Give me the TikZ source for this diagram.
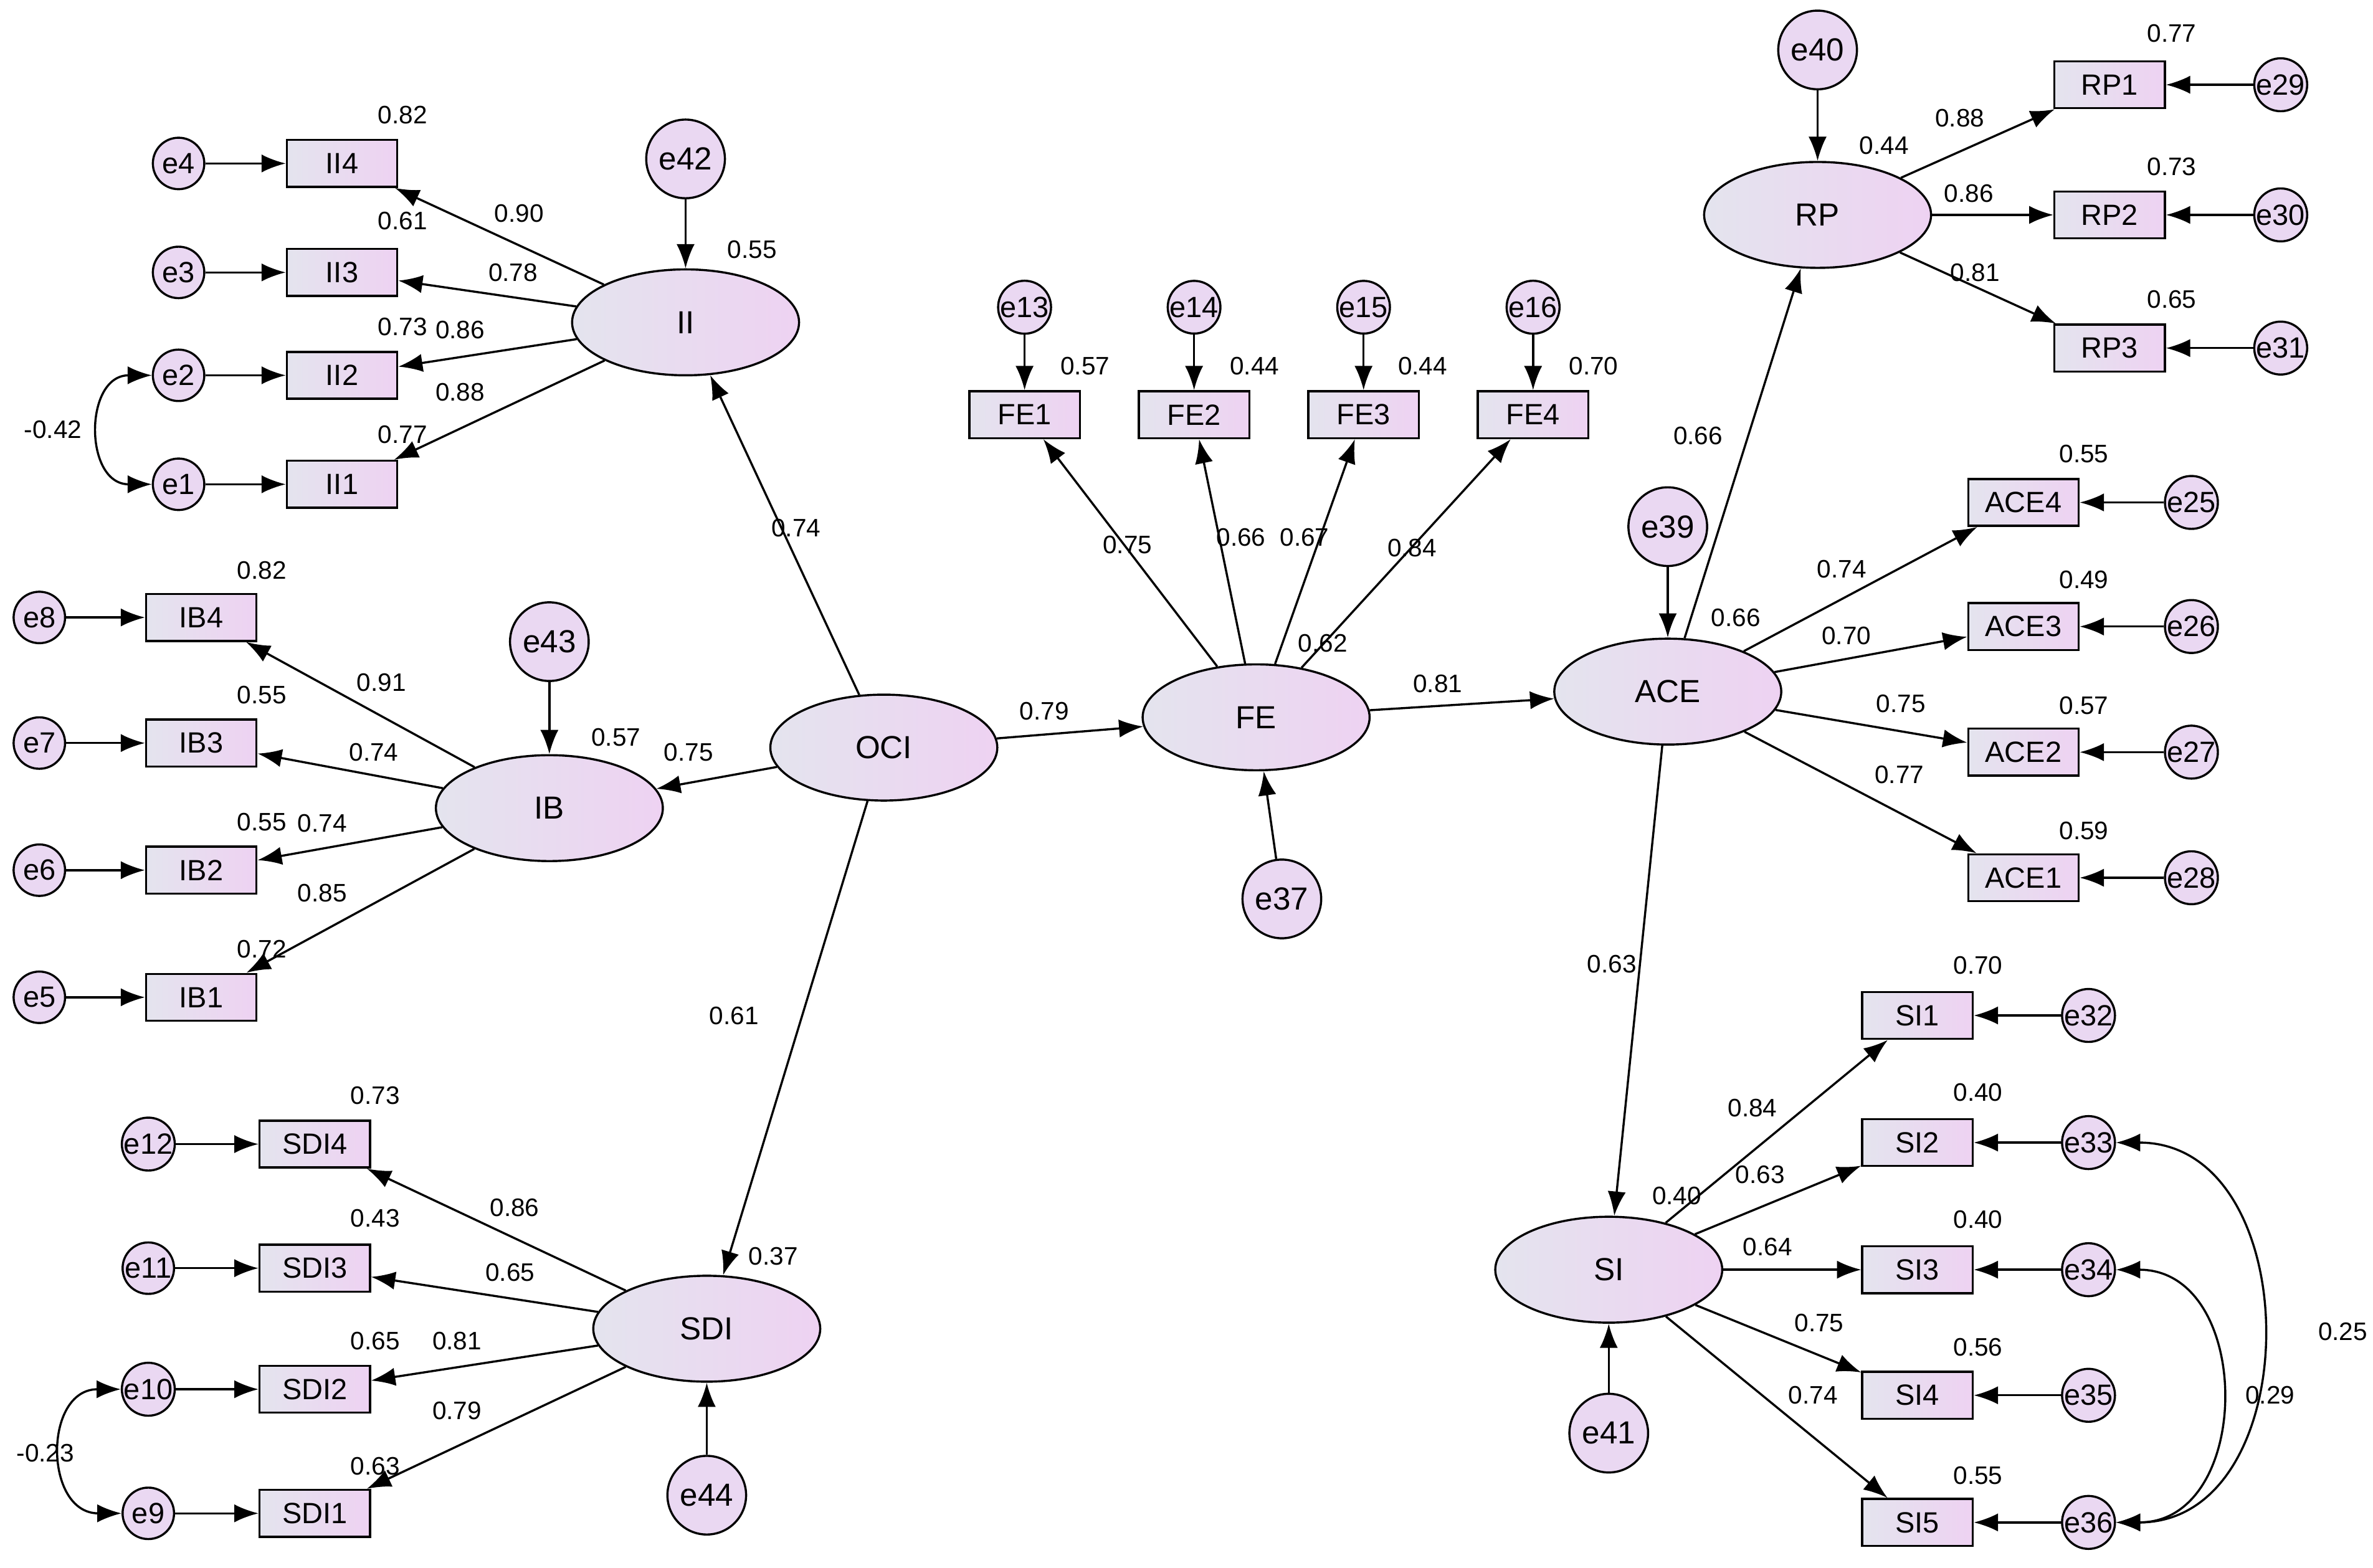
\documentclass[tikz,border=0pt]{standalone}
\usepackage{fontspec}
\setmainfont{Liberation Sans}
\usetikzlibrary{shapes.geometric,arrows.meta}
\definecolor{ga}{RGB}{228,228,238}
\definecolor{gb}{RGB}{238,210,242}
\definecolor{cf}{RGB}{234,216,242}
\begin{document}
\begin{tikzpicture}[x=0.02cm,y=-0.02cm,
 lat/.style={ellipse,draw,thick,left color=ga,right color=gb,minimum width=3cm,minimum height=1.4cm,font=\fontsize{12}{14}\selectfont},
 obs/.style={rectangle,draw,thick,left color=ga,right color=gb,minimum width=1.46cm,minimum height=0.62cm,inner sep=0pt,font=\fontsize{11}{13}\selectfont},
 err/.style={circle,draw,thick,fill=cf,minimum size=0.68cm,inner sep=0pt,font=\fontsize{11}{13}\selectfont},
 berr/.style={circle,draw,thick,fill=cf,minimum size=1.04cm,inner sep=0pt,font=\fontsize{12}{14}\selectfont},
 ar/.style={thick,-{Latex[length=0.32cm,width=0.24cm]}},
 cov/.style={thick,{Latex[length=0.32cm,width=0.24cm]}-{Latex[length=0.32cm,width=0.24cm]}},
 lb/.style={font=\fontsize{9.5}{11}\selectfont,inner sep=1pt}]
\useasboundingbox (0,0) rectangle (1568,1036);
% latent
\node[lat] (II) at (453,213) {II};
\node[lat] (IB) at (363,534) {IB};
\node[lat] (OCI) at (584,494) {OCI};
\node[lat] (FE) at (830,474) {FE};
\node[lat] (ACE) at (1102,457) {ACE};
\node[lat] (RP) at (1201,142) {RP};
\node[lat] (SI) at (1063,839) {SI};
\node[lat] (SDI) at (467,878) {SDI};
% big errors
\node[berr] (e42) at (453,105) {e42};
\node[berr] (e43) at (363,424) {e43};
\node[berr] (e37) at (847,594) {e37};
\node[berr] (e39) at (1102,348) {e39};
\node[berr] (e40) at (1201,33) {e40};
\node[berr] (e41) at (1063,947) {e41};
\node[berr] (e44) at (467,988) {e44};
\draw[ar] (e42)--(II); \draw[ar] (e43)--(IB); \draw[ar] (e37)--(FE);
\draw[ar] (e39)--(ACE); \draw[ar] (e40)--(RP); \draw[ar] (e41)--(SI); \draw[ar] (e44)--(SDI);
% structural
\draw[ar] (OCI)--(II); \draw[ar] (OCI)--(IB); \draw[ar] (OCI)--(SDI); \draw[ar] (OCI)--(FE);
\draw[ar] (FE)--(ACE); \draw[ar] (ACE)--(RP); \draw[ar] (ACE)--(SI);
% II
\foreach \n/\y/\e in {4/108/4,3/180/3,2/248/2,1/320/1}{
 \node[obs] (II\n) at (226,\y) {II\n};
 \node[err] (e\e) at (118,\y) {e\e};
 \draw[ar] (e\e)--(II\n); \draw[ar] (II)--(II\n);}
% IB
\foreach \n/\y/\e in {4/408/8,3/491/7,2/575/6,1/659/5}{
 \node[obs] (IB\n) at (133,\y) {IB\n};
 \node[err] (e\e) at (26,\y) {e\e};
 \draw[ar] (e\e)--(IB\n); \draw[ar] (IB)--(IB\n);}
% SDI
\foreach \n/\y/\e in {4/756/12,3/838/11,2/918/10,1/1000/9}{
 \node[obs] (SDI\n) at (208,\y) {SDI\n};
 \node[err] (e\e) at (98,\y) {e\e};
 \draw[ar] (e\e)--(SDI\n); \draw[ar] (SDI)--(SDI\n);}
% FE
\foreach \n/\x/\e in {1/677/13,2/789/14,3/901/15,4/1013/16}{
 \node[obs] (FE\n) at (\x,274) {FE\n};
 \node[err] (e\e) at (\x,203) {e\e};
 \draw[ar] (e\e)--(FE\n); \draw[ar] (FE)--(FE\n);}
% RP
\foreach \n/\y/\e in {1/56/29,2/142/30,3/230/31}{
 \node[obs] (RP\n) at (1394,\y) {RP\n};
 \node[err] (e\e) at (1507,\y) {e\e};
 \draw[ar] (e\e)--(RP\n); \draw[ar] (RP)--(RP\n);}
% ACE
\foreach \n/\y/\e in {4/332/25,3/414/26,2/497/27,1/580/28}{
 \node[obs] (ACE\n) at (1337,\y) {ACE\n};
 \node[err] (e\e) at (1448,\y) {e\e};
 \draw[ar] (e\e)--(ACE\n); \draw[ar] (ACE)--(ACE\n);}
% SI
\foreach \n/\y/\e in {1/671/32,2/755/33,3/839/34,4/922/35,5/1006/36}{
 \node[obs] (SI\n) at (1267,\y) {SI\n};
 \node[err] (e\e) at (1380,\y) {e\e};
 \draw[ar] (e\e)--(SI\n); \draw[ar] (SI)--(SI\n);}
% covariances
\draw[cov] (e2) to[out=180,in=180,looseness=1.6] (e1);
\draw[cov] (e10) to[out=180,in=180,looseness=1.6] (e9);
\draw[cov] (e33) to[out=0,in=0,looseness=1.3] (e36);
\draw[cov] (e34) to[out=0,in=0,looseness=1.4] (e36);
% labels
\foreach \t/\x/\y in {
0.55/497/165,0.90/343/141,0.78/339/180,0.86/304/218,0.88/304/259,
0.82/266/76,0.61/266/146,0.73/266/216,0.77/266/287,
0.74/526/349,0.75/455/497,0.57/407/487,
0.91/252/451,0.74/247/497,0.74/213/544,0.85/213/590,
0.82/173/377,0.55/173/459,0.55/173/543,0.72/173/627,
0.61/485/671,0.37/511/830,0.86/340/798,0.65/337/841,0.81/302/886,0.79/302/932,
0.73/248/724,0.43/248/805,0.65/248/886,0.63/248/969,
0.79/690/470,0.62/874/425,0.75/745/360,0.66/820/355,0.67/862/355,0.84/933/362,
0.57/717/242,0.44/829/242,0.44/940/242,0.70/1053/242,
0.81/950/452,0.66/1147/408,0.66/1122/288,0.44/1245/96,
0.88/1295/78,0.86/1301/128,0.81/1305/180,0.77/1435/22,0.73/1435/110,0.65/1435/198,
0.74/1217/376,0.70/1220/420,0.75/1256/465,0.77/1255/512,
0.55/1377/300,0.49/1377/383,0.57/1377/466,0.59/1377/549,
0.63/1065/637,0.40/1108/790,0.84/1158/732,0.63/1163/776,0.64/1168/824,0.75/1202/874,0.74/1198/922,
0.70/1307/638,0.40/1307/722,0.40/1307/806,0.56/1307/890,0.55/1307/975,
-0.42/35/284,-0.23/30/960,0.25/1548/880,0.29/1500/922}
 \node[lb] at (\x,\y) {\t};
\end{tikzpicture}
\end{document}
